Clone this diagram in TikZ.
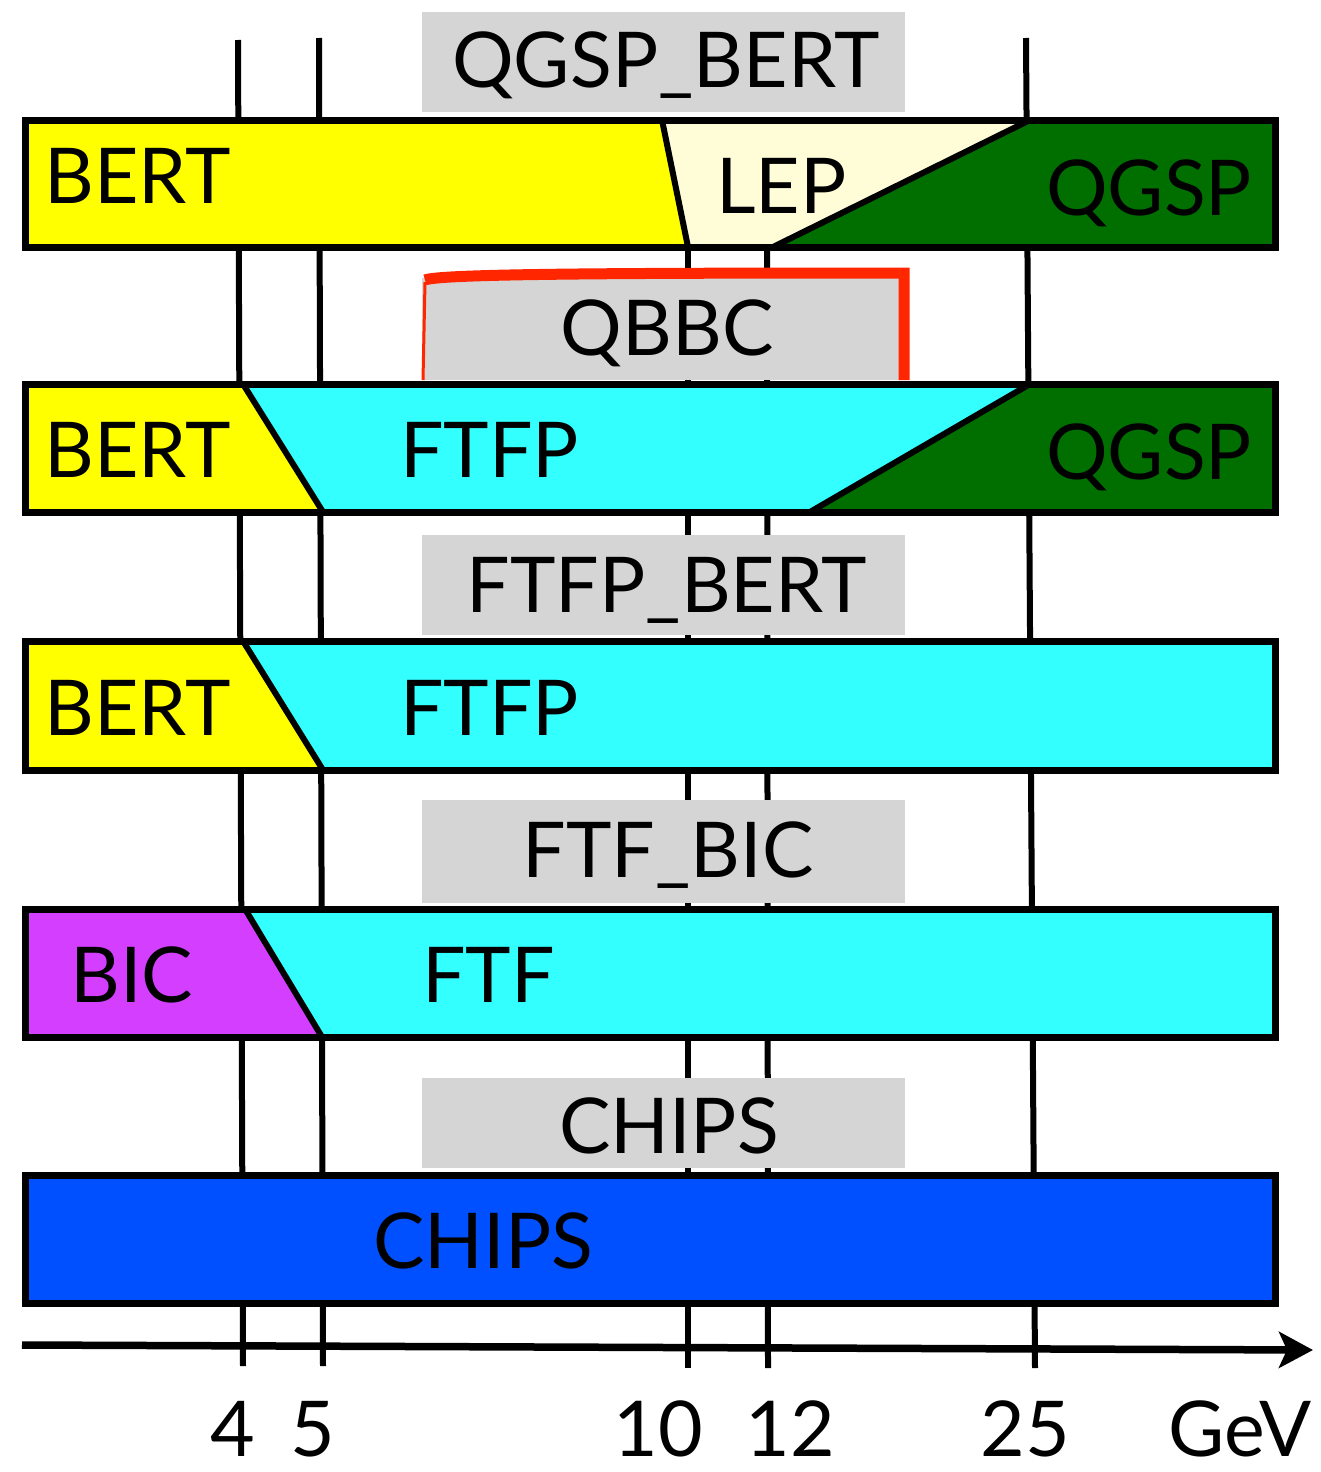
\documentclass[tikz,border=0pt]{standalone}
\usepackage{fontspec}
\setmainfont{Lato}
\usetikzlibrary{arrows.meta}
\definecolor{cyell}{HTML}{FFFF00}
\definecolor{clep}{HTML}{FFFDD8}
\definecolor{cgreen}{HTML}{006F00}
\definecolor{ccyan}{HTML}{33FFFF}
\definecolor{cpurp}{HTML}{D43FFF}
\definecolor{cblue}{HTML}{0050FF}
\definecolor{cgray}{HTML}{D5D5D5}
\definecolor{cred}{HTML}{FF2600}
\tikzset{
  band/.style={draw=black, line width=7pt, line join=miter},
  divider/.style={draw=black, line width=6pt},
  tick/.style={draw=black, line width=6pt},
  graybox/.style={fill=cgray, draw=none},
  lab/.style={inner sep=0pt, font=\fontsize{77}{80}\selectfont, anchor=base west},
  glab/.style={inner sep=0pt, font=\fontsize{77}{80}\selectfont, anchor=base},
}
\begin{document}
\begin{tikzpicture}[x=1pt,y=-1pt]
\useasboundingbox (0,0) rectangle (1321,1472);
% energy lines
\coordinate (t4) at (238,40); \coordinate (b4) at (243,1366);
\coordinate (t5) at (319,38); \coordinate (b5) at (323,1366);
\coordinate (t10) at (688,240); \coordinate (b10) at (688,1368);
\coordinate (t12) at (767,240); \coordinate (b12) at (768,1368);
\coordinate (t25) at (1026,38); \coordinate (b25) at (1035,1368);
\draw[tick] (t4) -- (b4);
\draw[tick] (t5) -- (b5);
\draw[tick] (t10) -- (b10);
\draw[tick] (t12) -- (b12);
\draw[tick] (t25) -- (b25);
% axis
\coordinate (a0) at (22,1345);
\coordinate (a1) at (1313,1350);
\draw[line width=7.5pt, -{Stealth[length=34pt,width=36pt,inset=8pt]}] (a0) -- (a1);
% band 1: QGSP_BERT
\fill[cyell] (25,120) -- (662,120) -- (688,247) -- (25,247) -- cycle;
\fill[clep] (662,120) -- (1030,120) -- (773,247) -- (688,247) -- cycle;
\fill[cgreen] (1030,120) -- (1275,120) -- (1275,247) -- (773,247) -- cycle;
\draw[divider] (662,120) -- (688,247);
\draw[divider] (1030,120) -- (773,247);
\draw[band] (25,120) rectangle (1275,247);
% band 2: QBBC
\fill[cyell] (25,384) -- (243,384) -- (323,512) -- (25,512) -- cycle;
\fill[ccyan] (243,384) -- (1030,384) -- (810,512) -- (323,512) -- cycle;
\fill[cgreen] (1030,384) -- (1275,384) -- (1275,512) -- (810,512) -- cycle;
\draw[divider] (243,384) -- (323,512);
\draw[divider] (1030,384) -- (810,512);
\draw[band] (25,384) rectangle (1275,512);
% band 3: FTFP_BERT
\fill[cyell] (25,641) -- (243,641) -- (323,770) -- (25,770) -- cycle;
\fill[ccyan] (243,641) -- (1275,641) -- (1275,770) -- (323,770) -- cycle;
\draw[divider] (243,641) -- (323,770);
\draw[band] (25,641) rectangle (1275,770);
% band 4: FTF_BIC
\fill[cpurp] (25,909) -- (245,909) -- (322,1037) -- (25,1037) -- cycle;
\fill[ccyan] (245,909) -- (1275,909) -- (1275,1037) -- (322,1037) -- cycle;
\draw[divider] (245,909) -- (322,1037);
\draw[band] (25,909) rectangle (1275,1037);
% band 5: CHIPS
\fill[cblue] (25,1175) rectangle (1275,1303);
\draw[band] (25,1175) rectangle (1275,1303);
% gray title boxes
\fill[graybox] (422,12) rectangle (905,112);
\fill[graybox] (422,278) rectangle (908,380);
\fill[graybox] (422,535) rectangle (905,635);
\fill[graybox] (422,800) rectangle (905,903);
\fill[graybox] (422,1078) rectangle (905,1168);
% red border on QBBC
\draw[cred, line width=3pt] (423,380) -- (425,282);
\draw[cred, line width=11pt, line join=miter] (425,280) .. controls (440,274) and (600,273) .. (904,273) -- (904,380);
% titles
\node[glab] (qgspbert) at (666,88) {QGSP\_BERT};
\node[glab] (qbbc) at (667,355) {QBBC};
\node[glab] (ftfpbert) at (667,612) {FTFP\_BERT};
\node[glab] (ftfbic) at (668,877) {FTF\_BIC};
\node[glab] (chipst) at (669,1153) {CHIPS};
% band labels
\node[lab] (bert1) at (44,203) {BERT};
\node[lab] (lep) at (716,213) {LEP};
\node[lab] (qgsp1) at (1046,215) {QGSP};
\node[lab] (bert2) at (44,477) {BERT};
\node[lab] (ftfp2) at (400,477) {FTFP};
\node[lab] (qgsp2) at (1046,479) {QGSP};
\node[lab] (bert3) at (44,735) {BERT};
\node[lab] (ftfp3) at (400,735) {FTFP};
\node[lab] (bic) at (70,1002) {BIC};
\node[lab] (ftf) at (422,1002) {FTF};
\node[lab] (chips) at (373,1268) {CHIPS};
% axis labels
\node[glab] (l4) at (233,1456) {4};
\node[glab] (l5) at (313,1456) {5};
\node[glab] (l10) at (658,1456) {10};
\node[glab] (l12) at (790,1456) {12};
\node[glab] (l25) at (1025,1456) {25};
\node[glab] (lgev) at (1240,1456) {GeV};
\end{tikzpicture}
\end{document}
